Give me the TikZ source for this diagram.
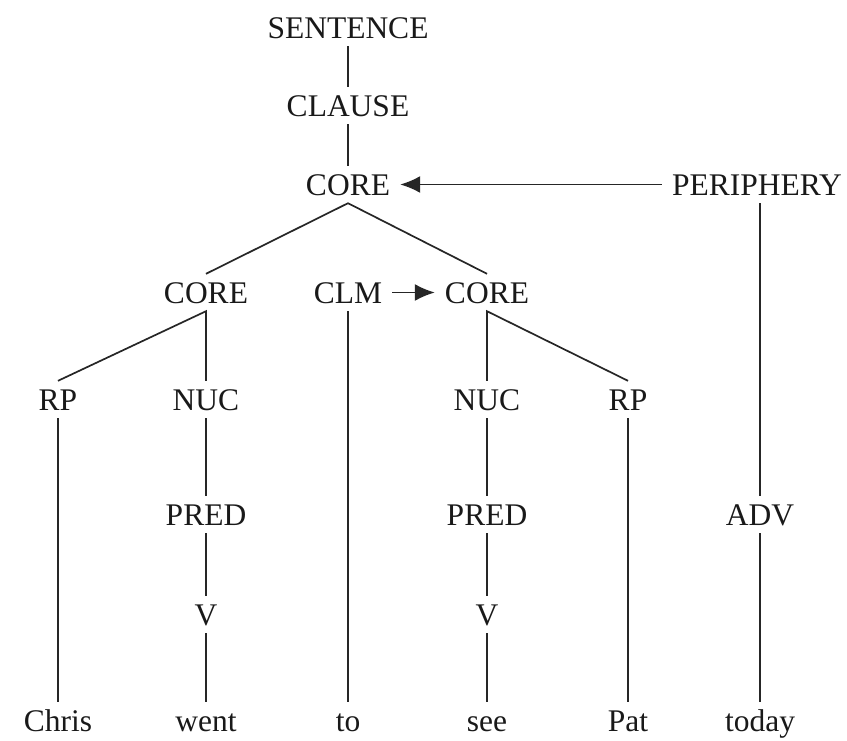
\documentclass[tikz,border=0pt]{standalone}
\usepackage{fontspec}
\setmainfont{Liberation Serif}
\usetikzlibrary{arrows.meta}
\begin{document}
\begin{tikzpicture}[x=1pt,y=-1pt,
  lab/.style={anchor=base,font=\fontsize{31.5}{33}\selectfont,text height=21pt,text depth=0pt,inner ysep=8pt,inner xsep=10pt,text=black!90},
  edge/.style={draw=black!85,line width=1.7pt},
  arr/.style={edge,-{Latex[length=20pt,width=17pt]}}]
\useasboundingbox (0,0) rectangle (847,740);
% nodes
\node[lab] (sent) at (348,38) {SENTENCE};
\node[lab] (clause) at (348,116) {CLAUSE};
\node[lab] (core) at (348,195) {CORE};
\node[lab] (peri) at (757,195) {PERIPHERY};
\node[lab] (lcore) at (206,303) {CORE};
\node[lab] (clm) at (348,303) {CLM};
\node[lab] (rcore) at (487,303) {CORE};
\node[lab] (lrp) at (58,410) {RP};
\node[lab] (lnuc) at (206,410) {NUC};
\node[lab] (rnuc) at (487,410) {NUC};
\node[lab] (rrp) at (628,410) {RP};
\node[lab] (lpred) at (206,525) {PRED};
\node[lab] (rpred) at (487,525) {PRED};
\node[lab] (adv) at (760,525) {ADV};
\node[lab] (lv) at (206,625) {V};
\node[lab] (rv) at (487,625) {V};
\node[lab] (w1) at (58,731) {Chris};
\node[lab] (w2) at (206,731) {went};
\node[lab] (w3) at (348,731) {to};
\node[lab] (w4) at (487,731) {see};
\node[lab] (w5) at (628,731) {Pat};
\node[lab] (w6) at (760,731) {today};
% connectors
\draw[edge] (sent.south) -- (clause.north);
\draw[edge] (clause.south) -- (core.north);
\draw[arr] (peri.west) -- (core.east);
\draw[edge] (lcore.north) -- (core.south) -- (rcore.north);
\draw[arr] (clm.east) -- (rcore.west);
\draw[edge] (lrp.north) -- (lcore.south) -- (lnuc.north);
\draw[edge] (rnuc.north) -- (rcore.south) -- (rrp.north);
\draw[edge] (clm.south) -- (w3.north);
\draw[edge] (lrp.south) -- (w1.north);
\draw[edge] (rrp.south) -- (w5.north);
\draw[edge] (lnuc.south) -- (lpred.north);
\draw[edge] (lpred.south) -- (lv.north);
\draw[edge] (lv.south) -- (w2.north);
\draw[edge] (rnuc.south) -- (rpred.north);
\draw[edge] (rpred.south) -- (rv.north);
\draw[edge] (rv.south) -- (w4.north);
\draw[edge] (peri.south -| adv.north) -- (adv.north);
\draw[edge] (adv.south) -- (w6.north);
\end{tikzpicture}
\end{document}
